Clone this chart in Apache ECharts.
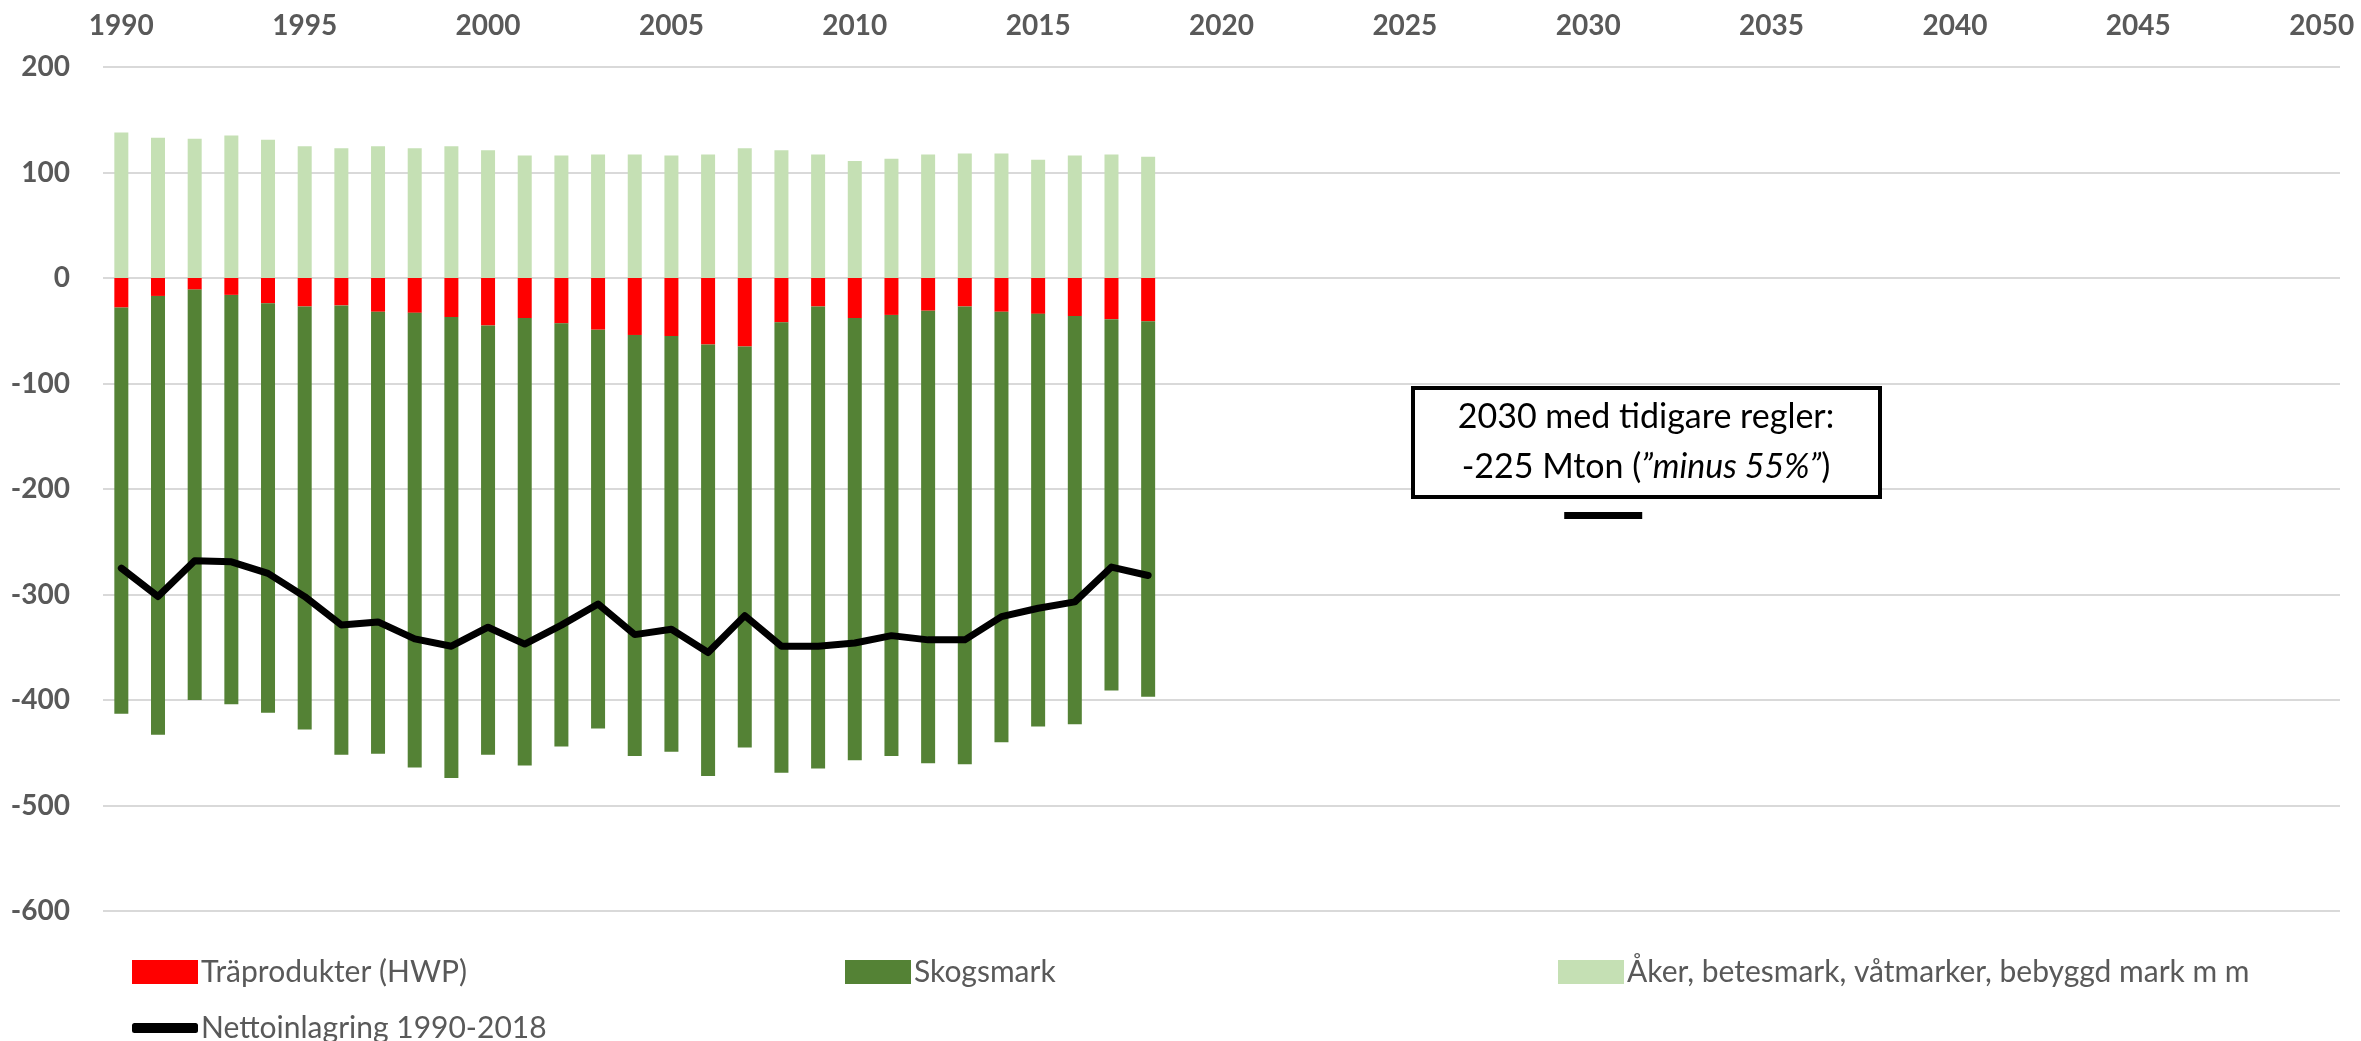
<!DOCTYPE html>
<html>
<head>
<meta charset="utf-8">
<script src="https://cdn.jsdelivr.net/npm/echarts@6/dist/echarts.min.js"></script>
<style>
  html, body { margin: 0; padding: 0; background: #fff; }
  #chart { width: 2361px; height: 1041px; }
</style>
</head>
<body>
<div id="chart"></div>
<script>
// years on the category axis, 1990-2050
var years = []
for (var y = 1990; y <= 2050; y++) years.push(String(y))

// Mton CO2-ekv, 1990-2018
var hwp = [-28, -17, -11, -16, -24, -27, -26, -32, -33, -37, -45, -38, -43, -49, -54,
  -55, -63, -65, -42, -27, -38, -35, -31, -27, -32, -34, -36, -39, -41]
var skogsmark = [-385, -416, -389, -388, -388, -401, -426, -419, -431, -437, -407, -424, -401, -378, -399,
  -394, -409, -380, -427, -438, -419, -418, -429, -434, -408, -391, -387, -352, -356]
var aker = [138, 133, 132, 135, 131, 125, 123, 125, 123, 125, 121, 116, 116, 117, 117,
  116, 117, 123, 121, 117, 111, 113, 117, 118, 118, 112, 116, 117, 115]
var netto = [-275, -302, -268, -269, -280, -302, -329, -326, -342, -349, -331, -347, -329, -309, -338,
  -333, -355, -320, -349, -349, -346, -339, -343, -343, -321, -313, -307, -274, -282]

// target 2030 under earlier rules
var targetYear = '2030'
var targetValue = -225

var yTicks = { min: -600, max: 200, interval: 100 }

var FONT = 'Lato'
var GREY = '#595959'

var chart = echarts.init(document.getElementById('chart'))

function legendItem(name, left, top, icon, h) {
  return {
    data: [name],
    left: left,
    top: top,
    orient: 'horizontal',
    icon: icon,
    itemWidth: 66,
    itemHeight: h,
    itemGap: 8,
    textStyle: { fontFamily: FONT, fontSize: 30, color: GREY, padding: [0, 0, 0, -2] },
    selectedMode: false
  }
}

chart.setOption({
  animation: false,
  textStyle: { fontFamily: FONT },
  grid: { left: 103, right: 21, top: 67, bottom: 130 },
  legend: [
    legendItem('Träprodukter (HWP)', 127, 952, 'rect', 24),
    legendItem('Skogsmark', 840, 952, 'rect', 24),
    legendItem('Åker, betesmark, våtmarker, bebyggd mark m m', 1553, 952, 'rect', 24),
    legendItem('Nettoinlagring 1990-2018', 127, 1008, 'roundRect', 10)
  ],
  xAxis: {
    type: 'category',
    position: 'top',
    data: years,
    boundaryGap: true,
    axisLine: { show: false },
    axisTick: { show: false },
    axisLabel: {
      interval: 4,
      margin: 27,
      fontFamily: FONT,
      fontWeight: 'bold',
      fontSize: 28,
      color: GREY
    }
  },
  yAxis: {
    type: 'value',
    min: yTicks.min,
    max: yTicks.max,
    interval: yTicks.interval,
    axisLine: { show: false },
    axisTick: { show: false },
    splitLine: { lineStyle: { color: '#d9d9d9', width: 2 } },
    axisLabel: {
      margin: 33,
      fontFamily: FONT,
      fontWeight: 'bold',
      fontSize: 28,
      color: GREY
    }
  },
  series: [
    {
      name: 'Träprodukter (HWP)',
      type: 'bar',
      stack: 'total',
      barWidth: 14,
      itemStyle: { color: '#ff0000' },
      data: hwp
    },
    {
      name: 'Skogsmark',
      type: 'bar',
      stack: 'total',
      barWidth: 14,
      itemStyle: { color: '#548235' },
      data: skogsmark
    },
    {
      name: 'Åker, betesmark, våtmarker, bebyggd mark m m',
      type: 'bar',
      stack: 'total',
      barWidth: 14,
      itemStyle: { color: '#c5e0b4' },
      data: aker
    },
    {
      name: 'Nettoinlagring 1990-2018',
      type: 'line',
      symbol: 'none',
      z: 5,
      itemStyle: { color: '#000' },
      lineStyle: { color: '#000', width: 7, join: 'round', cap: 'round' },
      data: netto
    },
    {
      name: '2030 mål',
      type: 'scatter',
      symbol: 'rect',
      symbolSize: [78, 7],
      symbolOffset: [15, 0],
      z: 5,
      itemStyle: { color: '#000', opacity: 1 },
      data: [[targetYear, targetValue]]
    }
  ],
  graphic: [
    {
      type: 'rect',
      shape: { x: 1413, y: 388, width: 467, height: 109 },
      style: { fill: '#fff', stroke: '#000', lineWidth: 4 },
      z: 10
    },
    {
      type: 'text',
      x: 1646,
      y: 442,
      z: 11,
      style: {
        text: '2030 med tidigare regler:\n{n|-225 Mton (}{i|”minus 55%”}{n|)}',
        align: 'center',
        verticalAlign: 'middle',
        fontFamily: FONT,
        fontSize: 34,
        lineHeight: 50,
        fill: '#000',
        rich: {
          n: { fontFamily: FONT, fontSize: 34, lineHeight: 50, fill: '#000' },
          i: { fontFamily: FONT, fontSize: 34, lineHeight: 50, fontStyle: 'italic', fill: '#000' }
        }
      }
    }
  ]
})
</script>
</body>
</html>
